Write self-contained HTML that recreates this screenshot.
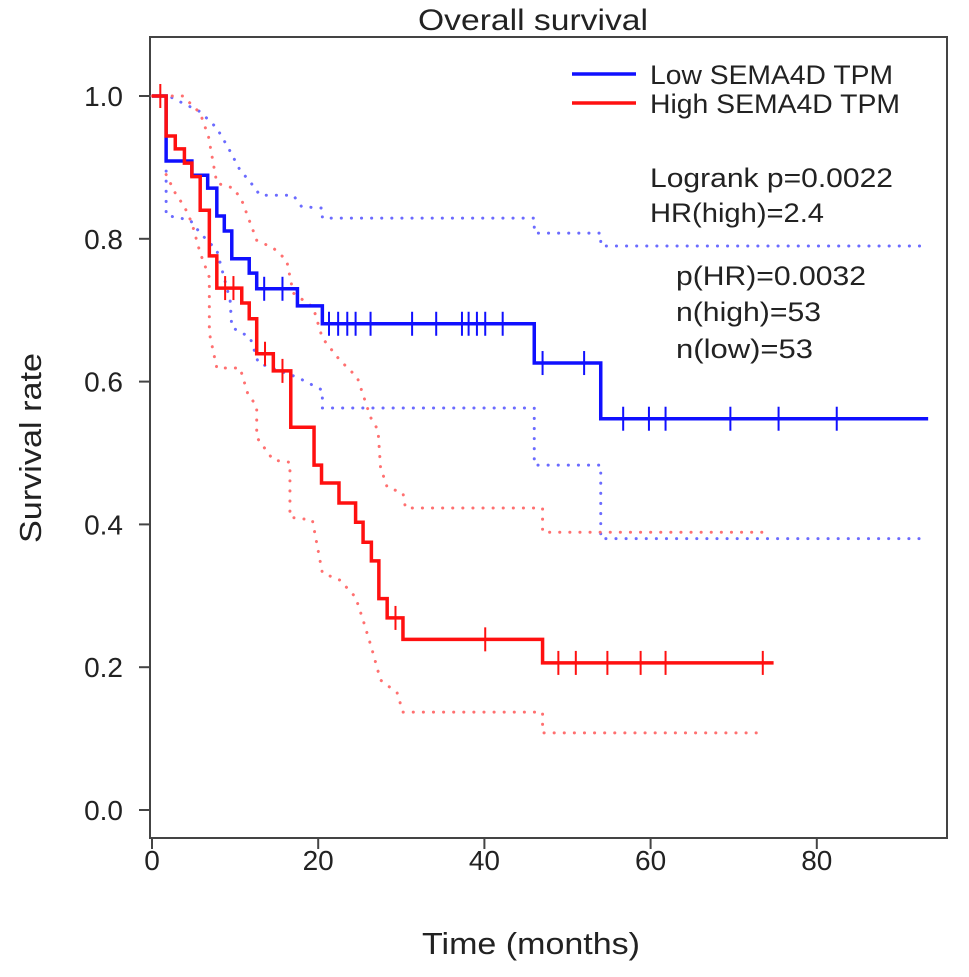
<!DOCTYPE html>
<html><head><meta charset="utf-8"><style>
html,body{margin:0;padding:0;background:#fff;}
svg{display:block;font-family:"Liberation Sans",Arial,sans-serif;}
</style></head><body>
<svg id="chart" width="969" height="977" viewBox="0 0 969 977">
<text x="533" y="30" font-size="30" text-anchor="middle" fill="#222" textLength="230" lengthAdjust="spacingAndGlyphs">Overall survival</text>
<rect x="150" y="37" width="797" height="801" fill="none" stroke="#444" stroke-width="2"/>
<g id="axes"></g>
<g id="ci"></g>
<g id="curves"></g>
<text x="531" y="954" font-size="31" text-anchor="middle" fill="#222" textLength="218" lengthAdjust="spacingAndGlyphs">Time (months)</text>
<text transform="translate(41,448) rotate(-90)" font-size="31" text-anchor="middle" fill="#222" textLength="190" lengthAdjust="spacingAndGlyphs">Survival rate</text>
<g>
<line x1="572" y1="74" x2="636" y2="74" stroke="#1010ff" stroke-width="3.5"/>
<text x="650" y="84" font-size="27" fill="#222" textLength="243" lengthAdjust="spacingAndGlyphs">Low SEMA4D TPM</text>
<line x1="572" y1="103" x2="636" y2="103" stroke="#ff1010" stroke-width="3.5"/>
<text x="650" y="113" font-size="27" fill="#222" textLength="250" lengthAdjust="spacingAndGlyphs">High SEMA4D TPM</text>
<text x="650" y="187" font-size="27" fill="#222" textLength="243" lengthAdjust="spacingAndGlyphs">Logrank p=0.0022</text>
<text x="650" y="222" font-size="27" fill="#222" textLength="174" lengthAdjust="spacingAndGlyphs">HR(high)=2.4</text>
<text x="676" y="285" font-size="27" fill="#222" textLength="190" lengthAdjust="spacingAndGlyphs">p(HR)=0.0032</text>
<text x="676" y="321" font-size="27" fill="#222" textLength="145" lengthAdjust="spacingAndGlyphs">n(high)=53</text>
<text x="676" y="358" font-size="27" fill="#222" textLength="137" lengthAdjust="spacingAndGlyphs">n(low)=53</text>
</g>
</svg>
<script>
const xTicks=[0,20,40,60,80];
const yTicks=[0.0,0.2,0.4,0.6,0.8,1.0];
// Low SEMA4D: step times and survival after each drop
const lowTimes=[0,1.7,4.8,6.7,7.8,8.7,9.6,11.7,12.6,17.5,20.5,46,54,93.4];
const lowSurv=[1.0,0.909,0.889,0.871,0.832,0.811,0.772,0.752,0.730,0.706,0.681,0.626,0.548,0.548];
const lowCensor=[13.5,15.7,21.3,22.4,23.5,24.5,26.3,31.3,34.2,37.3,38.1,39.1,40.1,42.2,47,52,56.7,59.8,61.8,69.6,75.4,82.4];
const highTimes=[0,1.7,2.8,3.9,4.8,5.8,6.9,7.8,10.8,11.7,12.6,14.6,16.7,19.5,20.4,22.5,24.5,25.4,26.4,27.3,28.3,30.2,47,74.8];
const highSurv=[1.0,0.944,0.926,0.906,0.887,0.840,0.776,0.731,0.710,0.688,0.639,0.615,0.536,0.483,0.458,0.430,0.403,0.375,0.349,0.296,0.269,0.239,0.206,0.206];
const highCensor=[1,8.8,9.8,13.6,15.7,29.3,40.1,48.9,51,54.8,58.8,61.8,73.5];
// Confidence bounds (time, value) pairs
const lowUpperT=[0,2,3.7,5.8,7.8,9.2,10.6,11.8,13,17,18,20.5,20.5,46,46,54,54,93];
const lowUpperV=[1.0,1.0,0.99,0.978,0.955,0.927,0.896,0.88,0.861,0.861,0.845,0.843,0.829,0.829,0.808,0.808,0.79,0.79];
const lowLowerT=[1.7,1.7,4.6,5.8,7.8,9.4,9.6,11.8,12.8,17.5,20.5,20.5,46,46,54,54,92.5];
const lowLowerV=[0.909,0.833,0.826,0.808,0.784,0.714,0.676,0.662,0.626,0.606,0.588,0.563,0.563,0.483,0.483,0.38,0.38];
const highUpperT=[0,3.7,5.8,6.8,7.8,9.8,10.8,12.6,14.6,16.2,17,19.4,20.5,22.6,24.7,25.9,26.3,27.2,27.5,28.3,30.2,30.5,47,47,73.5];
const highUpperV=[1.0,1.0,0.976,0.943,0.878,0.871,0.854,0.798,0.787,0.770,0.724,0.704,0.661,0.630,0.606,0.564,0.55,0.532,0.48,0.452,0.444,0.423,0.423,0.389,0.389];
const highLowerT=[1.7,2.8,3.9,4.8,5.8,6.9,6.9,7.8,10.6,11.5,12.6,12.6,14.6,16.6,16.6,19.3,20.5,22.6,24.5,25.4,26.4,27.5,29.5,30.2,47,47,73.5];
const highLowerV=[0.89,0.864,0.845,0.822,0.78,0.746,0.668,0.619,0.619,0.584,0.565,0.522,0.49,0.487,0.41,0.406,0.332,0.322,0.298,0.266,0.228,0.182,0.164,0.137,0.137,0.108,0.108];

const NS='http://www.w3.org/2000/svg';
const xs=t=>152+8.31*t;
const ys=s=>810-714*s;
function mk(tag,attrs,parent){const e=document.createElementNS(NS,tag);for(const k in attrs)e.setAttribute(k,attrs[k]);parent.appendChild(e);return e;}
const axes=document.getElementById('axes');
xTicks.forEach(v=>{
  const l=mk('line',{x1:xs(v),x2:xs(v),y1:838,y2:849,stroke:'#444','stroke-width':2},axes);
  
  
  const t=mk('text',{x:xs(v),y:870,'font-size':28,'text-anchor':'middle',fill:'#222'},axes);
  t.textContent=String(v);
  
  
});
yTicks.forEach(v=>{
  const l=mk('line',{x1:139,x2:150,y1:ys(v),y2:ys(v),stroke:'#444','stroke-width':2},axes);
  
  
  const t=mk('text',{x:123,y:ys(v)+10,'font-size':28,'text-anchor':'end',fill:'#222'},axes);
  t.textContent=v.toFixed(1);
  
  
});
function stepPath(T,S){let d='M'+xs(T[0])+','+ys(S[0]);for(let i=1;i<T.length;i++){d+=' H'+xs(T[i])+' V'+ys(S[i]);}return d;}
function polyPath(T,V){return T.map((t,i)=>(i?'L':'M')+xs(t)+','+ys(V[i])).join(' ');}
function survAt(T,S,t){let s=S[0];for(let i=0;i<T.length;i++){if(T[i]<=t)s=S[i];}return s;}
const ci=document.getElementById('ci');
[[lowUpperT,lowUpperV,'#6b6bff','ci-upper-low'],[lowLowerT,lowLowerV,'#6b6bff','ci-lower-low'],
 [highUpperT,highUpperV,'#ff7070','ci-upper-high'],[highLowerT,highLowerV,'#ff7070','ci-lower-high']].forEach(c=>{
  const p=mk('path',{d:polyPath(c[0],c[1]),fill:'none',stroke:c[2],'stroke-width':3,'stroke-dasharray':'0.1 10','stroke-linecap':'round'},ci);
  
  
});
const cv=document.getElementById('curves');
[[lowTimes,lowSurv,lowCensor,'#1010ff','low'],[highTimes,highSurv,highCensor,'#ff1010','high']].forEach(c=>{
  const p=mk('path',{d:stepPath(c[0],c[1]),fill:'none',stroke:c[3],'stroke-width':3.5},cv);
  
  
  c[2].forEach(t=>{
    const y=ys(survAt(c[0],c[1],t));
    const m=mk('line',{x1:xs(t),x2:xs(t),y1:y-12,y2:y+12,stroke:c[3],'stroke-width':2},cv);
    
    
  });
});
</script>
</body></html>
